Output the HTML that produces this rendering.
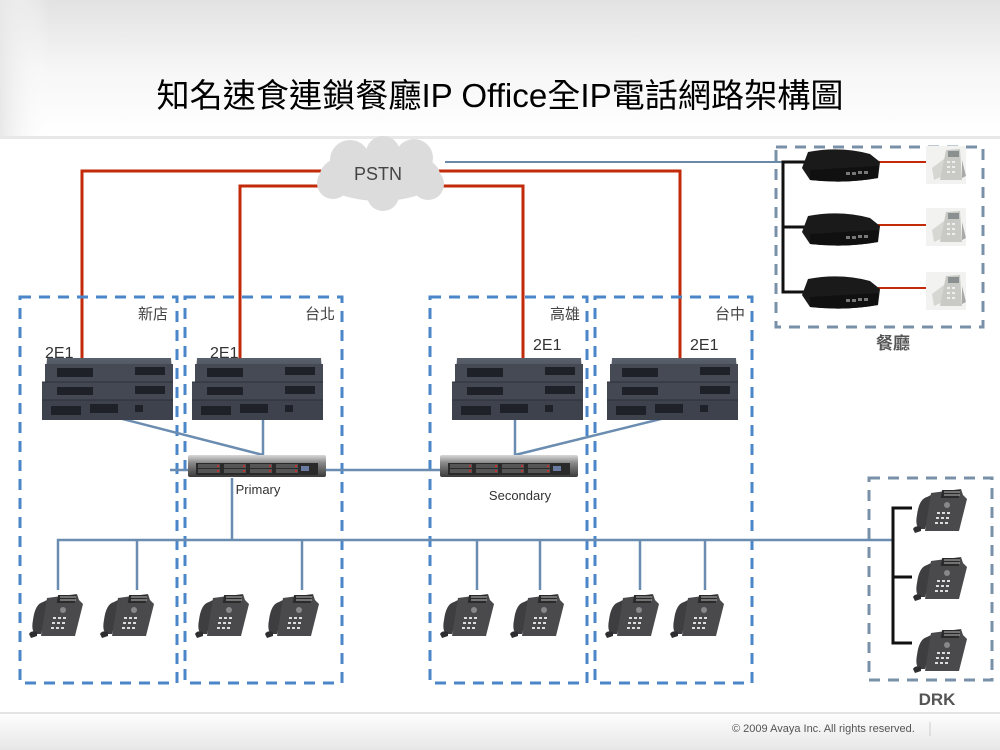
<!DOCTYPE html>
<html><head><meta charset="utf-8"><style>
html,body{margin:0;padding:0;background:#fff}
svg{display:block}
text{font-family:"Liberation Sans","Noto Sans CJK TC",sans-serif}
</style></head><body>
<svg width="1000" height="750" viewBox="0 0 1000 750" xmlns="http://www.w3.org/2000/svg">
<defs>
<linearGradient id="hdr" x1="0" y1="0" x2="0" y2="1">
<stop offset="0" stop-color="#e2e2e2"/><stop offset="0.5" stop-color="#f6f6f6"/><stop offset="1" stop-color="#ffffff"/>
</linearGradient>
<linearGradient id="hdrL" x1="0" y1="0" x2="1" y2="0">
<stop offset="0" stop-color="#e8e8e8"/><stop offset="0.05" stop-color="#fff" stop-opacity="0"/>
</linearGradient>
<linearGradient id="ftr" x1="0" y1="0" x2="0" y2="1">
<stop offset="0" stop-color="#ffffff"/><stop offset="1" stop-color="#e6e6e6"/>
</linearGradient>
<linearGradient id="sw" x1="0" y1="0" x2="0" y2="1">
<stop offset="0" stop-color="#5a606c"/><stop offset="1" stop-color="#3a3f49"/>
</linearGradient>
<linearGradient id="srv" x1="0" y1="0" x2="0" y2="1">
<stop offset="0" stop-color="#d8d8d8"/><stop offset="0.35" stop-color="#8a8a8a"/><stop offset="1" stop-color="#3a3a3a"/>
</linearGradient>
<g id="switch">
<path d="M2 0 L126 0 L128 30 L0 30 Z" fill="url(#sw)"/>
<rect x="0" y="6" width="128" height="18" fill="#454a55"/>
<rect x="12" y="10" width="36" height="9" fill="#1e2127"/>
<rect x="90" y="9" width="30" height="8" fill="#1e2127"/>
<rect x="-3" y="24" width="131" height="18" fill="#434853"/>
<rect x="12" y="29" width="36" height="8" fill="#1e2127"/>
<rect x="90" y="28" width="30" height="8" fill="#1e2127"/>
<rect x="-3" y="42" width="131" height="20" fill="#3d424c"/>
<rect x="6" y="48" width="30" height="9" fill="#1e2127"/>
<rect x="45" y="46" width="28" height="9" fill="#1e2127"/>
<rect x="90" y="47" width="8" height="7" fill="#1e2127"/>
<line x1="-3" y1="24" x2="128" y2="24" stroke="#2c3038"/>
<line x1="-3" y1="42" x2="128" y2="42" stroke="#2c3038"/>
</g>
<g id="server">
<rect x="0" y="0" width="138" height="22" rx="2" fill="url(#srv)"/>
<rect x="8" y="8" width="122" height="12" fill="#2a2a2a"/>
<g fill="#555"><rect x="10" y="9" width="22" height="4"/><rect x="10" y="14" width="22" height="4"/><rect x="36" y="9" width="22" height="4"/><rect x="36" y="14" width="22" height="4"/><rect x="62" y="9" width="22" height="4"/><rect x="62" y="14" width="22" height="4"/><rect x="88" y="9" width="22" height="4"/><rect x="88" y="14" width="22" height="4"/></g>
<g fill="#c03030"><rect x="29" y="10" width="2" height="2"/><rect x="55" y="10" width="2" height="2"/><rect x="81" y="10" width="2" height="2"/><rect x="107" y="10" width="2" height="2"/><rect x="29" y="15" width="2" height="2"/><rect x="55" y="15" width="2" height="2"/><rect x="81" y="15" width="2" height="2"/><rect x="107" y="15" width="2" height="2"/></g>
<rect x="113" y="11" width="8" height="5" fill="#6a7aa0"/>
</g>
<g id="phone">
<path d="M14 12 Q6 14 4 30 Q2 40 6 44 L12 44 L22 8 Z" fill="#3e3e40"/>
<path d="M18 8 L48 4 L50 10 L54 14 L46 46 L12 46 Z" fill="#4a4a4c"/>
<rect x="30" y="5" width="18" height="8" fill="#2a2a2a" transform="skewX(-10)"/>
<line x1="31" y1="7" x2="47" y2="7" stroke="#bbb" stroke-width="1"/>
<line x1="31" y1="10" x2="47" y2="10" stroke="#bbb" stroke-width="1"/>
<circle cx="34" cy="20" r="3" fill="#888"/>
<g fill="#ddd"><rect x="24" y="27" width="3" height="2"/><rect x="29" y="27" width="3" height="2"/><rect x="34" y="27" width="3" height="2"/><rect x="23" y="32" width="3" height="2"/><rect x="28" y="32" width="3" height="2"/><rect x="33" y="32" width="3" height="2"/><rect x="22" y="37" width="3" height="2"/><rect x="27" y="37" width="3" height="2"/><rect x="32" y="37" width="3" height="2"/></g>
<path d="M0 44 Q2 40 8 42 L8 46 L2 48 Z" fill="#2e2e30"/>
</g>
<g id="router">
<path d="M8 4 Q40 -2 70 6 L80 14 L78 30 Q45 36 10 32 L2 20 Z" fill="#1a1a1a"/>
<path d="M10 22 L78 18 L78 30 Q45 36 10 32 Z" fill="#101010"/>
<g fill="#777"><rect x="46" y="24" width="4" height="3"/><rect x="52" y="24" width="4" height="3"/><rect x="58" y="23" width="4" height="3"/><rect x="64" y="23" width="4" height="3"/></g>
</g>
<g id="dphone">
<rect x="0" y="0" width="40" height="38" fill="#f2f2f0"/>
<path d="M6 22 L22 10 L26 26 L8 34 Z" fill="#d6d6d2"/>
<path d="M20 4 L34 3 L36 34 L14 34 Z" fill="#c9cac6"/>
<rect x="22" y="5" width="11" height="6" fill="#8a9090"/>
<g fill="#eee"><rect x="21" y="15" width="3" height="2"/><rect x="26" y="15" width="3" height="2"/><rect x="21" y="20" width="3" height="2"/><rect x="26" y="20" width="3" height="2"/><rect x="21" y="25" width="3" height="2"/><rect x="26" y="25" width="3" height="2"/></g>
<path d="M36 14 L40 30 L36 32 Z" fill="#aaa"/>
</g>
</defs>

<rect x="0" y="0" width="1000" height="137" fill="url(#hdr)"/>
<rect x="0" y="0" width="1000" height="137" fill="url(#hdrL)"/>
<rect x="0" y="136" width="1000" height="3" fill="#e8e8e8"/>
<text x="500" y="107" font-size="33" text-anchor="middle" fill="#000" textLength="687" lengthAdjust="spacingAndGlyphs">知名速食連鎖餐廳IP Office全IP電話網路架構圖</text>
<rect x="0" y="712" width="1000" height="38" fill="url(#ftr)"/>
<line x1="0" y1="713" x2="1000" y2="713" stroke="#e4e4e4" stroke-width="2"/>
<text x="732" y="732" font-size="11" fill="#555">© 2009 Avaya Inc. All rights reserved.</text>
<line x1="930" y1="722" x2="930" y2="736" stroke="#ccc"/>

<g stroke="#c22a0a" stroke-width="3" fill="none">
<path d="M326 171 H82 V360"/>
<path d="M320 186 H240 V360"/>
<path d="M438 171 H680 V358"/>
<path d="M436 186 H523 V358"/>
</g>
<line x1="445" y1="162" x2="790" y2="162" stroke="#6a88a8" stroke-width="2"/>

<g fill="#dcdcdc">
<ellipse cx="380" cy="175" rx="60" ry="26"/>
<circle cx="350" cy="160" r="20"/><circle cx="383" cy="153" r="17"/><circle cx="414" cy="158" r="19"/>
<circle cx="333" cy="183" r="16"/><circle cx="428" cy="184" r="16"/><circle cx="383" cy="195" r="16"/>
</g>
<text x="378" y="180" font-size="18" text-anchor="middle" fill="#444">PSTN</text>

<g fill="none" stroke="#4a86c8" stroke-width="3" stroke-dasharray="11 8">
<rect x="20" y="297" width="157" height="386"/>
<rect x="185" y="297" width="157" height="386"/>
<rect x="430" y="297" width="157" height="386"/>
<rect x="595" y="297" width="157" height="386"/>
</g>
<g fill="none" stroke="#7890a8" stroke-width="3" stroke-dasharray="11 8">
<rect x="776" y="147" width="207" height="180"/>
<rect x="869" y="478" width="123" height="202"/>
</g>
<g font-size="15" fill="#444">
<text x="138" y="319">新店</text>
<text x="305" y="319">台北</text>
<text x="550" y="319">高雄</text>
<text x="715" y="319">台中</text>
</g>
<g font-size="16" fill="#333">
<text x="45" y="358">2E1</text>
<text x="210" y="358">2E1</text>
<text x="533" y="350">2E1</text>
<text x="690" y="350">2E1</text>
</g>

<g stroke="#6a8cb0" stroke-width="2.5" fill="none">
<path d="M107 415 L263 455 V418"/>
<path d="M515 415 V455 L673 416"/>
<path d="M170 470 H445"/>
<path d="M232 478 V540"/>
<path d="M58 590 V540 H893"/>
<path d="M137 540 V590 M302 540 V590 M477 540 V590 M540 540 V590 M640 540 V590 M705 540 V590"/>
</g>

<use href="#switch" x="45" y="358"/>
<use href="#switch" x="195" y="358"/>
<use href="#switch" x="455" y="358"/>
<use href="#switch" x="610" y="358"/>

<use href="#server" x="188" y="455"/>
<use href="#server" x="440" y="455"/>
<text x="258" y="494" font-size="13" text-anchor="middle" fill="#333">Primary</text>
<text x="520" y="500" font-size="13" text-anchor="middle" fill="#333">Secondary</text>

<use href="#phone" x="29" y="590"/>
<use href="#phone" x="100" y="590"/>
<use href="#phone" x="195" y="590"/>
<use href="#phone" x="265" y="590"/>
<use href="#phone" x="440" y="590"/>
<use href="#phone" x="510" y="590"/>
<use href="#phone" x="605" y="590"/>
<use href="#phone" x="670" y="590"/>

<g stroke="#111" stroke-width="3" fill="none">
<path d="M912 508 H893 V643 H912 M893 577 H912"/>
</g>
<use href="#phone" x="913" y="485"/>
<use href="#phone" x="913" y="553"/>
<use href="#phone" x="913" y="625"/>
<text x="937" y="705" font-size="17" font-weight="bold" text-anchor="middle" fill="#555">DRK</text>

<g stroke="#111" stroke-width="3" fill="none">
<path d="M805 162 H783 V292 H805 M783 227 H805"/>
</g>
<g stroke="#c22a0a" stroke-width="2">
<line x1="878" y1="162" x2="932" y2="162"/>
<line x1="878" y1="225" x2="932" y2="225"/>
<line x1="878" y1="288" x2="932" y2="288"/>
</g>
<use href="#router" x="800" y="148"/>
<use href="#router" x="800" y="212"/>
<use href="#router" x="800" y="275"/>
<use href="#dphone" x="926" y="146"/>
<use href="#dphone" x="926" y="208"/>
<use href="#dphone" x="926" y="272"/>
<text x="893" y="349" font-size="17" font-weight="bold" text-anchor="middle" fill="#555">餐廳</text>
</svg>
</body></html>
